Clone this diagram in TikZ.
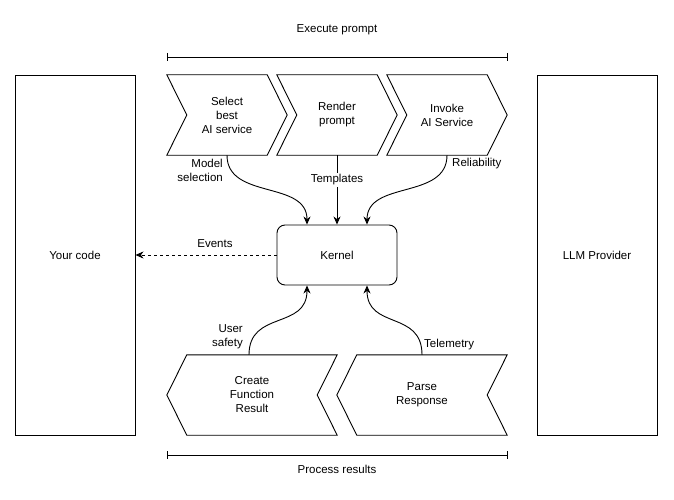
\documentclass[tikz,border=0pt]{standalone}
\usepackage{fontspec}
\setmainfont{Liberation Sans}
\usetikzlibrary{arrows.meta}
\begin{document}
\begin{tikzpicture}[x=1pt,y=-1pt,
  every node/.style={font=\fontsize{11.5}{14}\selectfont, align=center, inner sep=1pt},
  line/.style={draw=black, line width=0.9pt},
  box/.style={line, rectangle, minimum width=120pt, minimum height=360pt, inner sep=0pt},
  chev/.style={rectangle, inner sep=0pt, minimum width=120pt, minimum height=80pt},
  chevwide/.style={rectangle, inner sep=0pt, minimum width=170pt, minimum height=80pt},
  conn/.style={line, -{Stealth[length=8pt,width=7pt,inset=2.5pt]}},
  lbl/.style={fill=white, inner sep=1.5pt}
]
\useasboundingbox (0,0) rectangle (674,500);

% side boxes
\node[box] (code) at (75,255) {Your code};
\node[box] (llm) at (597,255) {LLM Provider};

% kernel
\node[line, rounded corners=8pt, minimum width=120pt, minimum height=60pt, inner sep=0pt] (kernel) at (337,255) {Kernel};

% top chevrons
\node[chev] (sel) at (227,115) {Select\\best\\AI service};
\node[chev] (ren) at (337,115) {Render\\prompt};
\node[chev] (inv) at (447,115) {Invoke\\AI Service};
\foreach \n in {sel,ren,inv}{
  \draw[line, line join=miter] (\n.north west) -- ([xshift=-20pt]\n.north east) -- (\n.east)
    -- ([xshift=-20pt]\n.south east) -- (\n.south west) -- ([xshift=20pt]\n.west) -- cycle;
}

% bottom chevrons
\node[chevwide] (cfr) at (252,395) {Create\\Function\\Result};
\node[chevwide] (par) at (422,395) {Parse\\Response};
\foreach \n in {cfr,par}{
  \draw[line, line join=miter] ([xshift=20pt]\n.north west) -- (\n.north east) -- ([xshift=-20pt]\n.east)
    -- (\n.south east) -- ([xshift=20pt]\n.south west) -- (\n.west) -- cycle;
}

% brackets
\node (exe) at (337,30) {Execute prompt};
\draw[line] (167,57) -- (507,57);
\draw[line] (167,53) -- (167,61);
\draw[line] (507,53) -- (507,61);
\node (proc) at (337,469) {Process results};
\draw[line] (167,455) -- (507,455);
\draw[line] (167,451) -- (167,459);
\draw[line] (507,451) -- (507,459);

% connectors top
\draw[conn] (sel.south) .. controls (227,200) and (307,180) .. ([xshift=-30pt]kernel.north);
\draw[conn] (ren.south) -- (kernel.north);
\draw[conn] (inv.south) .. controls (447,200) and (367,180) .. ([xshift=30pt]kernel.north);
\node[lbl] (tpl) at (337,180) {Templates};
\node[anchor=east, align=right] (msel) at (224,170) {Model\\selection};
\node[anchor=west] (rel) at (451,164) {Reliability};

% connectors bottom
\draw[conn] ([xshift=-3pt]cfr.north) .. controls (249,310) and (307,330) .. ([xshift=-30pt]kernel.south);
\draw[conn] (par.north) .. controls (422,310) and (367,330) .. ([xshift=30pt]kernel.south);
\node[anchor=east, align=right] (usaf) at (244,337) {User\\safety};
\node[anchor=west] (tel) at (423,345) {Telemetry};

% events
\draw[conn, dashed] (kernel.west) -- (code.east);
\node (ev) at (215,244) {Events};
\end{tikzpicture}
\end{document}
